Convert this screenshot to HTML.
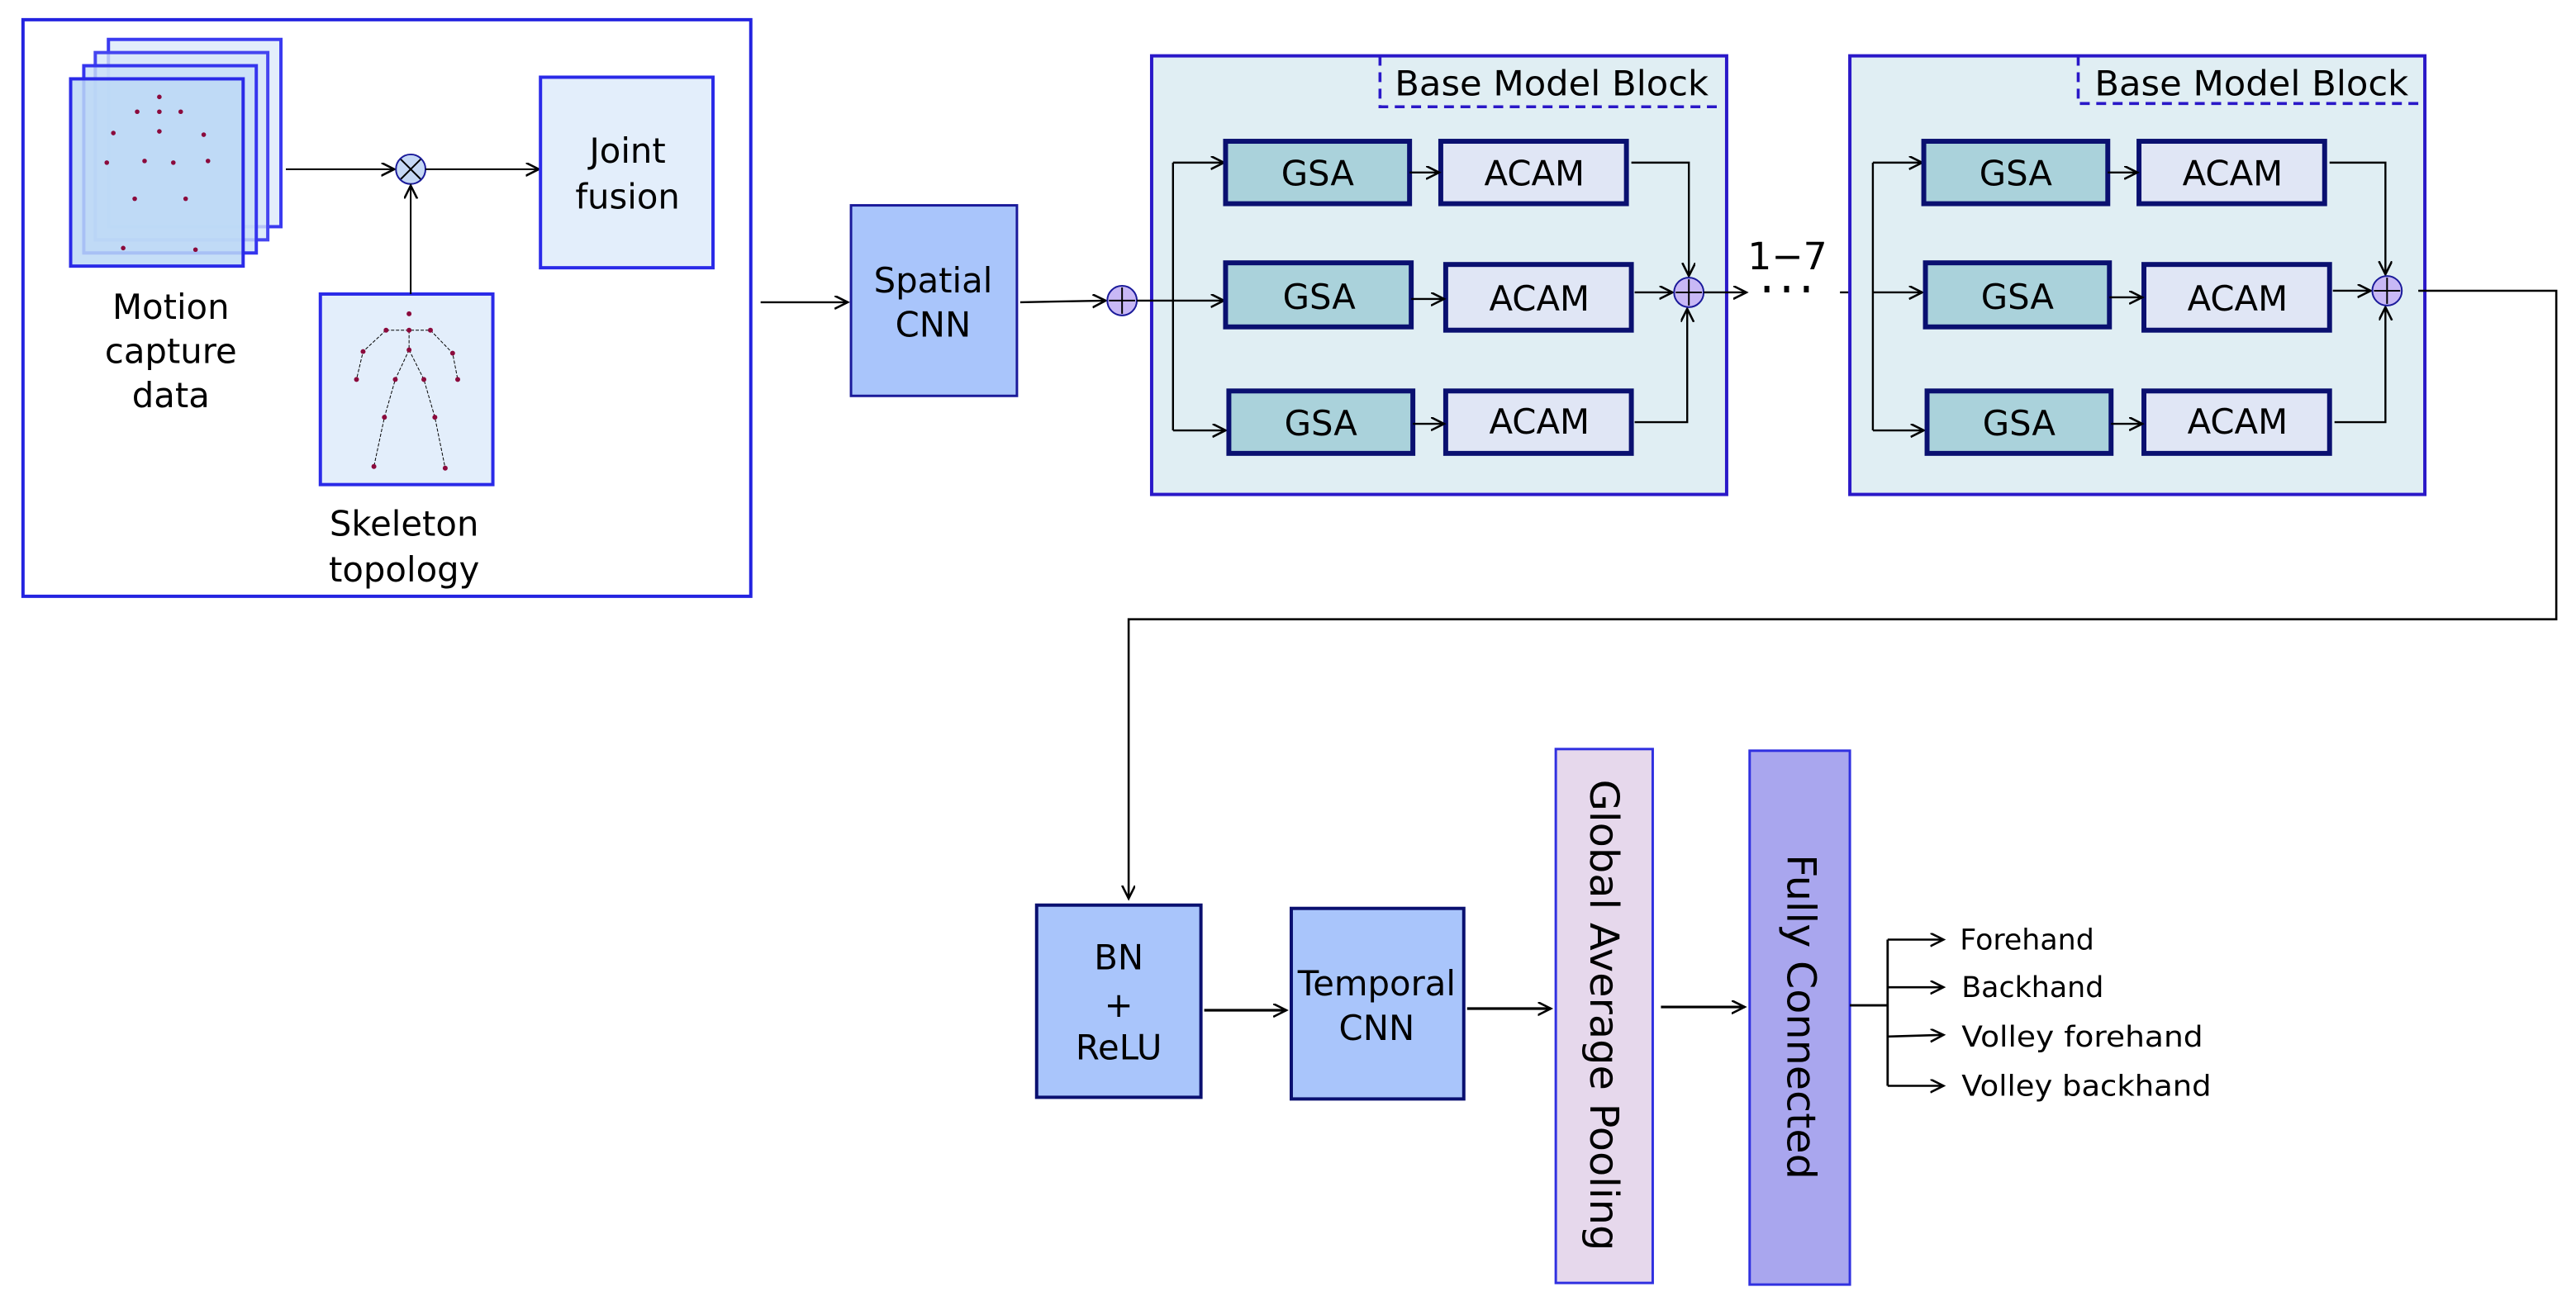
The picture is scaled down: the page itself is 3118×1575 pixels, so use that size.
<!DOCTYPE html>
<html><head><meta charset="utf-8"><style>html,body{margin:0;padding:0;background:#fff}svg{display:block}text{font-family:"DejaVu Sans","Liberation Sans",sans-serif;fill:#000}</style></head>
<body>
<svg width="3118" height="1575" viewBox="0 0 1568 792" preserveAspectRatio="none" xmlns="http://www.w3.org/2000/svg">
<defs>
<marker id="a" markerWidth="10" markerHeight="10" refX="8" refY="4" orient="auto" markerUnits="userSpaceOnUse"><path d="M0,0 L8,4 L0,8" fill="none" stroke="#000" stroke-width="1.3"/></marker>
</defs>
<rect width="1568" height="792" fill="#fff"/>
<rect x="14" y="12" width="443" height="351" fill="#fff" stroke="#2323e0" stroke-width="2"/>
<rect x="66" y="24" width="105" height="114" fill="#e3eefb" stroke="#3a3af0" stroke-width="2"/>
<rect x="58" y="32" width="105" height="114" fill="#d6e6f9" fill-opacity="0.8" stroke="#4545f0" stroke-width="2"/>
<rect x="51" y="40" width="105" height="114" fill="#c8def8" fill-opacity="0.8" stroke="#3535ee" stroke-width="2"/>
<rect x="43" y="48" width="105" height="114" fill="#bcd8f6" fill-opacity="0.85" stroke="#2a2ae8" stroke-width="2"/>
<g fill="#8b0a3c">
<circle cx="97" cy="59" r="1.4"/><circle cx="83.5" cy="68" r="1.4"/><circle cx="97" cy="68" r="1.4"/><circle cx="110" cy="68" r="1.4"/><circle cx="69" cy="81" r="1.4"/><circle cx="97" cy="80" r="1.4"/><circle cx="124" cy="82" r="1.4"/><circle cx="65" cy="99" r="1.4"/><circle cx="88" cy="98" r="1.4"/><circle cx="105.5" cy="99" r="1.4"/><circle cx="126.6" cy="98" r="1.4"/><circle cx="82" cy="121" r="1.4"/><circle cx="113" cy="121" r="1.4"/><circle cx="75" cy="151" r="1.4"/><circle cx="119" cy="152" r="1.4"/>
</g>
<line x1="174" y1="103" x2="240" y2="103" stroke="#000" stroke-width="1" marker-end="url(#a)"/>
<circle cx="250" cy="103" r="9" fill="#c5d8f5" stroke="#1a1a9a" stroke-width="1"/>
<path d="M244,97 L256,109 M256,97 L244,109" stroke="#000" stroke-width="1"/>
<line x1="259" y1="103" x2="328" y2="103" stroke="#000" stroke-width="1" marker-end="url(#a)"/>
<rect x="329" y="47" width="105" height="116" fill="#e3eefb" stroke="#2a2ae8" stroke-width="2"/>
<text x="382" y="99" font-size="21" text-anchor="middle">Joint</text>
<text x="382" y="127" font-size="21" text-anchor="middle">fusion</text>
<rect x="195" y="179" width="105" height="116" fill="#e3eefb" stroke="#2a2ae8" stroke-width="2"/>
<line x1="250" y1="179" x2="250" y2="113" stroke="#000" stroke-width="1" marker-end="url(#a)"/>
<g stroke="#000" stroke-width="0.5" fill="none" stroke-dasharray="2,1">
<path d="M235,201 L262,201 M235,201 L221,214 L217,231 M262,201 L275.5,215 L278.6,231 M249,201 L249,213 L240.6,231 L234,254 L227.6,284 M249,213 L258,231 L264.7,254 L271,285"/>
</g>
<g fill="#8b0a3c">
<circle cx="249" cy="191" r="1.5"/><circle cx="235" cy="201" r="1.5"/><circle cx="249" cy="201" r="1.5"/><circle cx="262" cy="201" r="1.5"/><circle cx="221" cy="214" r="1.5"/><circle cx="249" cy="213" r="1.5"/><circle cx="275.5" cy="215" r="1.5"/><circle cx="217" cy="231" r="1.5"/><circle cx="240.6" cy="231" r="1.5"/><circle cx="258" cy="231" r="1.5"/><circle cx="278.6" cy="231" r="1.5"/><circle cx="234" cy="254" r="1.5"/><circle cx="264.7" cy="254" r="1.5"/><circle cx="227.6" cy="284" r="1.5"/><circle cx="271" cy="285" r="1.5"/>
</g>
<text x="104" y="194" font-size="21" text-anchor="middle">Motion</text>
<text x="104" y="221" font-size="21" text-anchor="middle">capture</text>
<text x="104" y="248" font-size="21" text-anchor="middle">data</text>
<text x="246" y="326" font-size="21" text-anchor="middle">Skeleton</text>
<text x="246" y="354" font-size="21" text-anchor="middle">topology</text>
<line x1="463" y1="184" x2="516" y2="184" stroke="#000" stroke-width="1.2" marker-end="url(#a)"/>
<rect x="518" y="125" width="101" height="116" fill="#a9c5fb" stroke="#1a1a9a" stroke-width="1.5"/>
<text x="568" y="178" font-size="21" text-anchor="middle">Spatial</text>
<text x="568" y="205" font-size="21" text-anchor="middle">CNN</text>
<line x1="621" y1="184" x2="673" y2="183" stroke="#000" stroke-width="1.2" marker-end="url(#a)"/>
<circle cx="683" cy="183" r="9" fill="#c8b8f5" stroke="#1a1a9a" stroke-width="1"/>
<path d="M675,183 L691,183 M683,175 L683,191" stroke="#000" stroke-width="1"/>
<rect x="701" y="34" width="350" height="267" fill="#e0eef3" stroke="#2a18c8" stroke-width="2"/>
<path d="M840,34 L840,65 L1049,65" fill="none" stroke="#2a18c8" stroke-width="1.8" stroke-dasharray="6,4"/>
<text x="849" y="58" font-size="21" textLength="191" lengthAdjust="spacingAndGlyphs">Base Model Block</text>
<path d="M692,183 L714,183 M714,99 L714,262" stroke="#000" stroke-width="1.2" fill="none"/>
<line x1="714" y1="99" x2="745" y2="99" stroke="#000" stroke-width="1.2" marker-end="url(#a)"/>
<line x1="714" y1="183" x2="745" y2="183" stroke="#000" stroke-width="1.2" marker-end="url(#a)"/>
<line x1="714" y1="262" x2="746" y2="262" stroke="#000" stroke-width="1.2" marker-end="url(#a)"/>
<g stroke="#0a1070" stroke-width="3">
<rect x="746" y="86" width="112" height="38" fill="#aad2db"/>
<rect x="746" y="160" width="113" height="39" fill="#aad2db"/>
<rect x="748" y="238" width="112" height="38" fill="#aad2db"/>
<rect x="877" y="86" width="113" height="38" fill="#e0e6f5"/>
<rect x="880" y="161" width="113" height="40" fill="#e0e6f5"/>
<rect x="880" y="238" width="113" height="38" fill="#e0e6f5"/>
</g>
<g font-size="21" text-anchor="middle">
<text x="802" y="113">GSA</text><text x="803" y="188">GSA</text><text x="804" y="265">GSA</text>
<text x="934" y="113">ACAM</text><text x="937" y="189">ACAM</text><text x="937" y="264">ACAM</text>
</g>
<line x1="858" y1="105" x2="876" y2="105" stroke="#000" stroke-width="1.2" marker-end="url(#a)"/>
<line x1="859" y1="182" x2="879" y2="182" stroke="#000" stroke-width="1.2" marker-end="url(#a)"/>
<line x1="860" y1="258" x2="879" y2="258" stroke="#000" stroke-width="1.2" marker-end="url(#a)"/>
<path d="M993,99 L1028,99 L1028,168" fill="none" stroke="#000" stroke-width="1.2" marker-end="url(#a)"/>
<line x1="995" y1="178" x2="1018" y2="178" stroke="#000" stroke-width="1.2" marker-end="url(#a)"/>
<path d="M995,257 L1027,257 L1027,188" fill="none" stroke="#000" stroke-width="1.2" marker-end="url(#a)"/>
<circle cx="1028" cy="178" r="9" fill="#c8b8f5" stroke="#1a1a9a" stroke-width="1"/>
<path d="M1020,178 L1036,178 M1028,170 L1028,186" stroke="#000" stroke-width="1"/>
<line x1="1037" y1="178" x2="1063" y2="178" stroke="#000" stroke-width="1.2" marker-end="url(#a)"/>
<text x="1088" y="164" font-size="23" text-anchor="middle">1−7</text>
<g fill="#000"><rect x="1074" y="174" width="3" height="4"/><rect x="1086" y="174" width="3" height="4"/><rect x="1098" y="174" width="3" height="4"/></g>
<path d="M1120,178 L1140,178" stroke="#000" stroke-width="1.2"/>
<rect x="1126" y="34" width="350" height="267" fill="#e0eef3" stroke="#2a18c8" stroke-width="2"/>
<path d="M1265,34 L1265,63 L1474,63" fill="none" stroke="#2a18c8" stroke-width="1.8" stroke-dasharray="6,4"/>
<text x="1275" y="58" font-size="21" textLength="191" lengthAdjust="spacingAndGlyphs">Base Model Block</text>
<path d="M1140,99 L1140,262" stroke="#000" stroke-width="1.2" fill="none"/>
<line x1="1140" y1="99" x2="1170" y2="99" stroke="#000" stroke-width="1.2" marker-end="url(#a)"/>
<line x1="1140" y1="178" x2="1170" y2="178" stroke="#000" stroke-width="1.2" marker-end="url(#a)"/>
<line x1="1140" y1="262" x2="1171" y2="262" stroke="#000" stroke-width="1.2" marker-end="url(#a)"/>
<g stroke="#0a1070" stroke-width="3">
<rect x="1171" y="86" width="112" height="38" fill="#aad2db"/>
<rect x="1172" y="160" width="112" height="39" fill="#aad2db"/>
<rect x="1173" y="238" width="112" height="38" fill="#aad2db"/>
<rect x="1302" y="86" width="113" height="38" fill="#e0e6f5"/>
<rect x="1305" y="161" width="113" height="40" fill="#e0e6f5"/>
<rect x="1305" y="238" width="113" height="38" fill="#e0e6f5"/>
</g>
<g font-size="21" text-anchor="middle">
<text x="1227" y="113">GSA</text><text x="1228" y="188">GSA</text><text x="1229" y="265">GSA</text>
<text x="1359" y="113">ACAM</text><text x="1362" y="189">ACAM</text><text x="1362" y="264">ACAM</text>
</g>
<line x1="1283" y1="105" x2="1301" y2="105" stroke="#000" stroke-width="1.2" marker-end="url(#a)"/>
<line x1="1284" y1="181" x2="1304" y2="181" stroke="#000" stroke-width="1.2" marker-end="url(#a)"/>
<line x1="1285" y1="258" x2="1304" y2="258" stroke="#000" stroke-width="1.2" marker-end="url(#a)"/>
<path d="M1418,99 L1452,99 L1452,167" fill="none" stroke="#000" stroke-width="1.2" marker-end="url(#a)"/>
<line x1="1420" y1="177" x2="1443" y2="177" stroke="#000" stroke-width="1.2" marker-end="url(#a)"/>
<path d="M1421,257 L1452,257 L1452,187" fill="none" stroke="#000" stroke-width="1.2" marker-end="url(#a)"/>
<circle cx="1453" cy="177" r="9" fill="#c8b8f5" stroke="#1a1a9a" stroke-width="1"/>
<path d="M1445,177 L1461,177 M1453,169 L1453,185" stroke="#000" stroke-width="1"/>
<path d="M1472,177 L1556,177 L1556,377 L687,377 L687,547" fill="none" stroke="#000" stroke-width="1.3" marker-end="url(#a)"/>
<rect x="631" y="551" width="100" height="117" fill="#a9c5fb" stroke="#0a1070" stroke-width="2"/>
<text x="681" y="590" font-size="21" text-anchor="middle">BN</text>
<text x="681" y="619" font-size="21" text-anchor="middle">+</text>
<text x="681" y="645" font-size="21" text-anchor="middle">ReLU</text>
<line x1="733" y1="615" x2="783" y2="615" stroke="#000" stroke-width="1.6" marker-end="url(#a)"/>
<rect x="786" y="553" width="105" height="116" fill="#a9c5fb" stroke="#0a1070" stroke-width="2"/>
<text x="838" y="606" font-size="21" text-anchor="middle">Temporal</text>
<text x="838" y="633" font-size="21" text-anchor="middle">CNN</text>
<line x1="893" y1="614" x2="944" y2="614" stroke="#000" stroke-width="1.6" marker-end="url(#a)"/>
<rect x="947" y="456" width="59" height="325" fill="#e6d8ec" stroke="#3030e0" stroke-width="1.5"/>
<text transform="translate(976,618) rotate(90)" x="0" y="8" font-size="24" text-anchor="middle" textLength="287" lengthAdjust="spacingAndGlyphs">Global Average Pooling</text>
<line x1="1011" y1="613" x2="1062" y2="613" stroke="#000" stroke-width="1.6" marker-end="url(#a)"/>
<rect x="1065" y="457" width="61" height="325" fill="#a9a6ee" stroke="#3030e0" stroke-width="1.5"/>
<text transform="translate(1096,619) rotate(90)" x="0" y="8" font-size="24" text-anchor="middle" textLength="198" lengthAdjust="spacingAndGlyphs">Fully Connected</text>
<path d="M1126,612 L1149,612 M1149,572 L1149,661" stroke="#000" stroke-width="1.4" fill="none"/>
<line x1="1149" y1="572" x2="1183" y2="572" stroke="#000" stroke-width="1.3" marker-end="url(#a)"/>
<line x1="1149" y1="601" x2="1183" y2="601" stroke="#000" stroke-width="1.3" marker-end="url(#a)"/>
<line x1="1149" y1="631" x2="1183" y2="630" stroke="#000" stroke-width="1.3" marker-end="url(#a)"/>
<line x1="1149" y1="661" x2="1183" y2="661" stroke="#000" stroke-width="1.3" marker-end="url(#a)"/>
<g font-size="17.5">
<text x="1193" y="578">Forehand</text>
<text x="1194" y="607">Backhand</text>
<text x="1194" y="637" textLength="147" lengthAdjust="spacingAndGlyphs">Volley forehand</text>
<text x="1194" y="667" textLength="152" lengthAdjust="spacingAndGlyphs">Volley backhand</text>
</g>
</svg>
</body></html>
